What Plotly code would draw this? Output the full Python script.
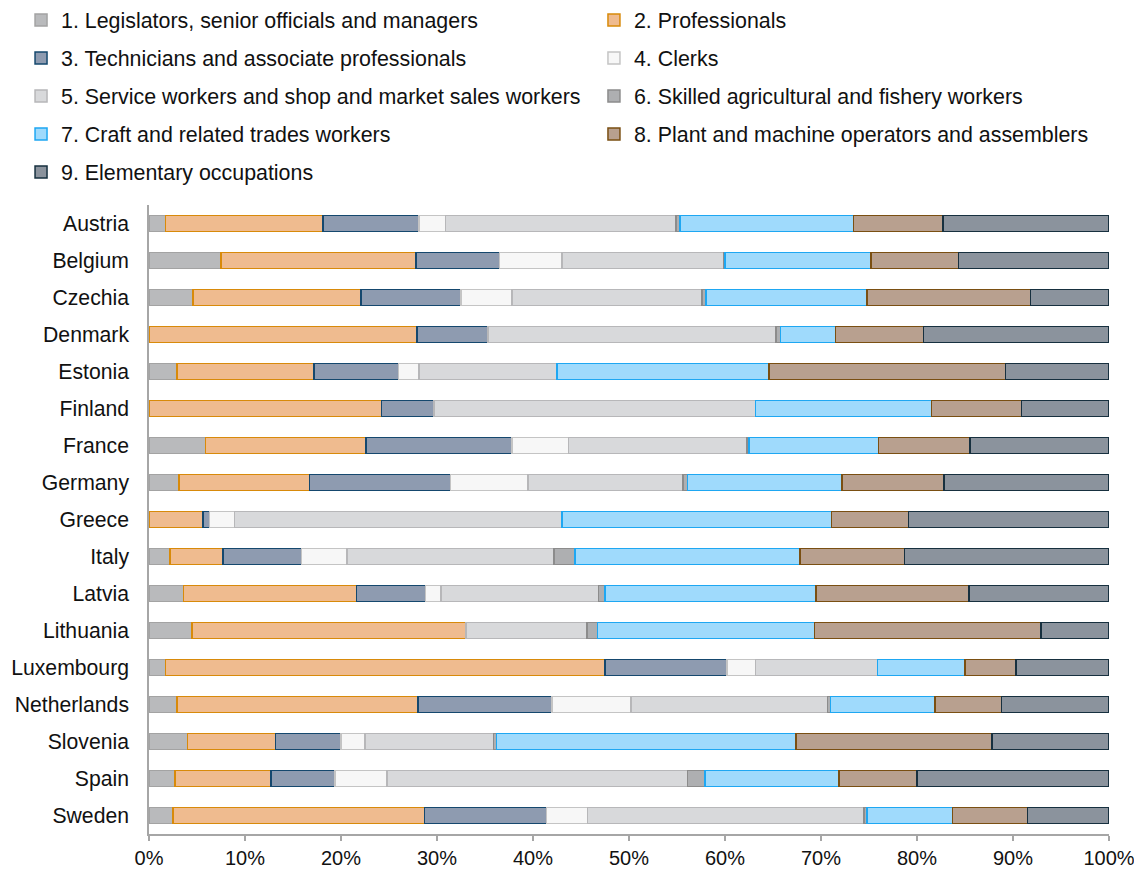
import plotly.graph_objects as go

countries = ["Austria", "Belgium", "Czechia", "Denmark", "Estonia", "Finland", "France",
             "Germany", "Greece", "Italy", "Latvia", "Lithuania", "Luxembourg",
             "Netherlands", "Slovenia", "Spain", "Sweden"]

series_names = [
    "1. Legislators, senior officials and managers",
    "2. Professionals",
    "3. Technicians and associate professionals",
    "4. Clerks",
    "5. Service workers and shop and market sales workers",
    "6. Skilled agricultural and fishery workers",
    "7. Craft and related trades workers",
    "8. Plant and machine operators and assemblers",
    "9. Elementary occupations",
]

legislators = [1.7, 7.5, 4.6, 0, 2.9, 0, 5.9, 3.1, 0, 2.2, 3.6, 4.5, 1.7, 2.9, 4.0, 2.7, 2.5]
professionals = [16.4, 20.3, 17.5, 27.9, 14.3, 24.2, 16.7, 13.6, 5.6, 5.5, 18.0, 28.5, 45.8, 25.1, 9.2, 10.0, 26.2]
technicians = [10.0, 8.7, 10.4, 7.4, 8.8, 5.5, 15.2, 14.7, 0.7, 8.2, 7.2, 0, 12.7, 14.0, 6.8, 6.7, 12.7]
clerks = [2.8, 6.5, 5.3, 0, 2.1, 0, 5.9, 8.1, 2.6, 4.7, 1.6, 0, 3.0, 8.2, 2.5, 5.4, 4.3]
service = [24.0, 16.9, 19.8, 30.0, 14.4, 33.5, 18.6, 16.1, 34.1, 21.6, 16.4, 12.6, 12.7, 20.5, 13.4, 31.3, 28.8]
agricultural = [0.4, 0.1, 0.4, 0.5, 0, 0, 0.2, 0.5, 0, 2.2, 0.7, 1.1, 0, 0.3, 0.3, 1.8, 0.3]
craft = [18.1, 15.2, 16.8, 5.7, 22.1, 18.3, 13.5, 16.1, 28.1, 23.4, 22.0, 22.6, 9.1, 10.9, 31.2, 14.0, 8.9]
operators = [9.3, 9.1, 17.0, 9.2, 24.6, 9.4, 9.5, 10.6, 8.0, 10.9, 15.9, 23.6, 5.3, 6.9, 20.4, 8.1, 7.8]
elementary = [17.3, 15.7, 8.2, 19.3, 10.8, 9.1, 14.5, 17.2, 20.9, 21.3, 14.6, 7.1, 9.7, 11.2, 12.2, 20.0, 8.5]

values = [legislators, professionals, technicians, clerks, service, agricultural,
          craft, operators, elementary]

fills = ["#b9babc", "#efbb8f", "#8e9bb0", "#f7f7f7", "#d8d9db", "#aeafb1",
         "#9fdafc", "#b8a08f", "#8b939d"]
borders = ["#a3a3a3", "#d88a0a", "#15486e", "#c4c4c4", "#b7b7b9", "#8c8c8c",
           "#1ea7f2", "#7a4f12", "#17303f"]

FONT = "Liberation Sans, Arial, sans-serif"

fig = go.Figure()
for i, (name, vals) in enumerate(zip(series_names, values)):
    fig.add_trace(go.Bar(
        y=countries, x=vals, name=name, orientation="h",
        marker=dict(color=fills[i], line=dict(color=borders[i], width=1.5)),
        legend="legend" if i % 2 == 0 else "legend2",
        legendgroup=f"g{i}",
    ))

legend_common = dict(
    orientation="v", yanchor="top", xanchor="left",
    font=dict(family=FONT, size=21.4, color="#111111"),
    bgcolor="rgba(0,0,0,0)", borderwidth=0, tracegroupgap=7.2,
    traceorder="grouped",
)

fig.update_layout(
    width=1142, height=875,
    margin=dict(l=141, r=41, t=197, b=49, autoexpand=False),
    paper_bgcolor="white", plot_bgcolor="white",
    barmode="stack", bargap=0.57,
    font=dict(family=FONT, size=21, color="#111111"),
    legend=dict(x=-0.1333, y=1.3266, **legend_common),
    legend2=dict(x=0.4635, y=1.3266, **legend_common),
    xaxis=dict(range=[0, 100], dtick=10, ticksuffix="%", showgrid=False,
               zeroline=False, showline=True, linecolor="#a6a6a6", linewidth=1.5,
               ticks="outside", ticklen=5, tickcolor="#a6a6a6", tickwidth=1.5,
               tickfont=dict(size=20), fixedrange=True),
    yaxis=dict(autorange="reversed", showgrid=False, zeroline=False,
               showline=True, linecolor="#a6a6a6", linewidth=1.5,
               ticks="", ticklabelstandoff=14, tickfont=dict(size=21.2)),
)

fig.write_html("out.html")
